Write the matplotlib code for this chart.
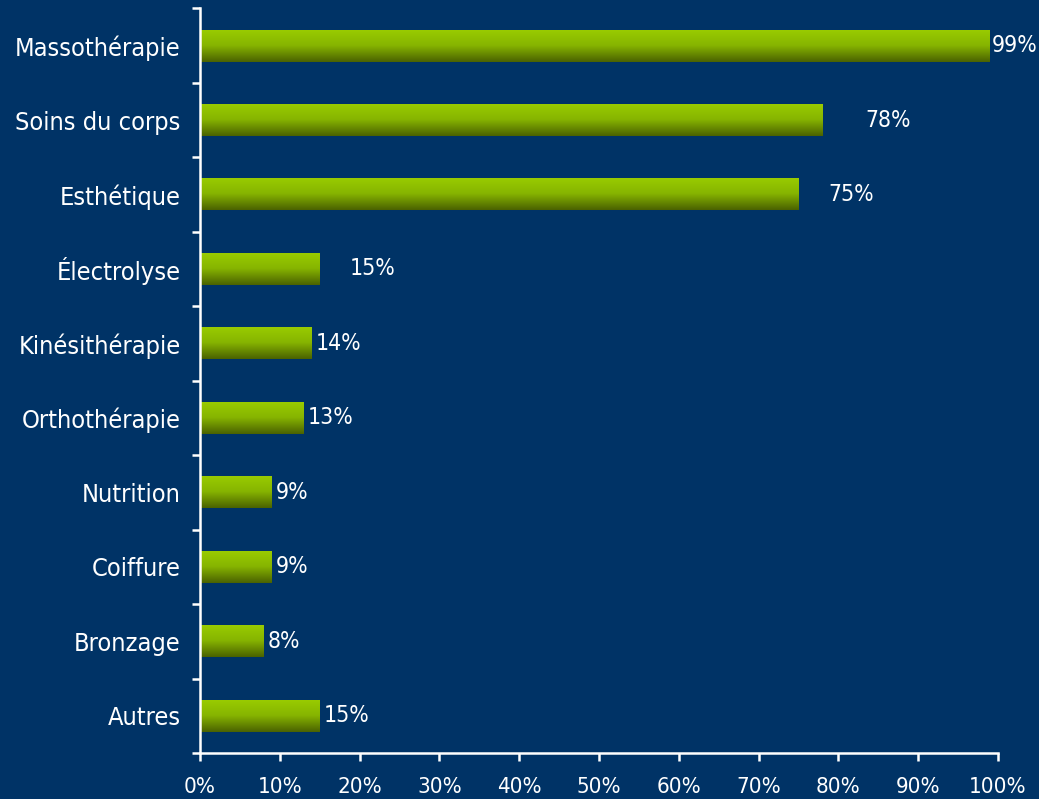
import matplotlib.pyplot as plt
import numpy as np
from matplotlib.ticker import FixedLocator, PercentFormatter
from matplotlib.colors import LinearSegmentedColormap

categories = ["Massothérapie", "Soins du corps", "Esthétique", "Électrolyse",
              "Kinésithérapie", "Orthothérapie", "Nutrition", "Coiffure",
              "Bronzage", "Autres"]
values = [99, 78, 75, 15, 14, 13, 9, 9, 8, 15]
# extra gap between bar end and its label, in pixels
label_gap = [2, 43, 30, 30, 4, 4, 4, 4, 4, 4]

bg = "#003366"
green = LinearSegmentedColormap.from_list("green", ["#9acd00", "#86b400", "#4a6100"])

plt.rcParams['font.family'] = ['DejaVu Sans']
fig = plt.figure(figsize=(10.39, 7.99), dpi=100, facecolor=bg)
ax = fig.add_axes([0.1925, 0.0576, 0.768, 0.932])
ax.set_facecolor(bg)

y = np.arange(len(categories))
bars = ax.barh(y, values, height=0.43, color="none", edgecolor="none")

# vertical gradient inside each bar, light on top
grad = np.linspace(0, 1, 256).reshape(-1, 1)
for b in bars:
    x0, y0 = b.get_x(), b.get_y()
    w, h = b.get_width(), b.get_height()
    im = ax.imshow(grad, cmap=green, aspect="auto", interpolation="bilinear",
                   extent=(x0, x0 + w, y0 + h, y0), origin="upper", zorder=2)
    im.set_clip_path(b)
ax.set_ylim(len(categories) - 0.5, -0.5)
ax.set_xlim(0, 100)

for yi, v, gap in zip(y, values, label_gap):
    ax.annotate(f"{v}%", (v, yi), xytext=(gap * 0.72, 0), textcoords="offset points",
                ha="left", va="center", color="white", fontsize=16.5,
                fontstretch="condensed")

ax.set_yticks(y)
ax.set_yticklabels(categories, fontsize=18.2, color="white", fontstretch="condensed")
ax.tick_params(axis="y", which="major", length=0, pad=14)
ax.yaxis.set_minor_locator(FixedLocator(np.arange(-0.5, len(categories), 1)))
ax.tick_params(axis="y", which="minor", length=6, width=1.8, color="white", direction="out")

ax.set_xticks(np.arange(0, 101, 10))
ax.xaxis.set_major_formatter(PercentFormatter(decimals=0))
ax.tick_params(axis="x", length=6, width=1.8, colors="white", labelsize=16, pad=11)
for lbl in ax.get_xticklabels():
    lbl.set_fontstretch("condensed")

for side in ["top", "right"]:
    ax.spines[side].set_visible(False)
for side in ["left", "bottom"]:
    ax.spines[side].set_color("white")
    ax.spines[side].set_linewidth(1.8)

fig.savefig("out.png", dpi=100, facecolor=bg)
